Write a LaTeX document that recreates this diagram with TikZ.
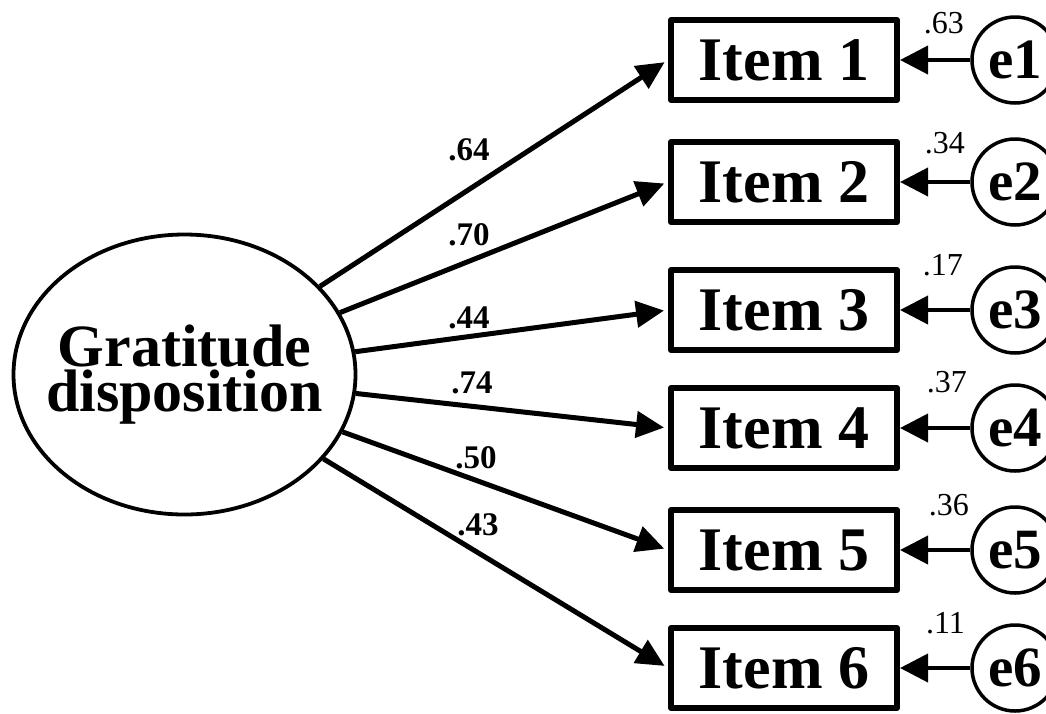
\documentclass[tikz,border=0pt]{standalone}
\usepackage{fontspec}
\setmainfont{Liberation Serif}
\usetikzlibrary{arrows.meta,shapes.geometric}
\begin{document}
\begin{tikzpicture}[x=1pt,y=-1pt,
  latent/.style={draw, ellipse, line width=3.8pt, minimum width=342pt,
    minimum height=280pt, inner sep=0pt},
  latentname/.style={align=center, inner sep=0pt,
    font=\fontsize{60}{45}\selectfont\bfseries},
  itembox/.style={draw, rectangle, line width=6pt, line join=round,
    minimum width=226pt, minimum height=80pt, inner sep=0pt,
    font=\fontsize{62}{62}\selectfont\bfseries},
  errnode/.style={draw, circle, line width=3.5pt, minimum size=86pt,
    inner sep=0pt, font=\fontsize{57}{57}\selectfont\bfseries},
  load/.style={line width=5pt, -{Triangle[length=28pt,width=26pt]},
    shorten >=4pt},
  errarrow/.style={line width=4pt, -{Triangle[length=28pt,width=28pt]}},
  loadlbl/.style={anchor=base, inner sep=0pt,
    font=\fontsize{33}{33}\selectfont\bfseries},
  errlbl/.style={anchor=base east, inner sep=0pt,
    font=\fontsize{32}{32}\selectfont}
]
\useasboundingbox (0,0) rectangle (1046,713);

% latent factor, its name set on top of the ellipse
\node[latent, label={[latentname]center:Gratitude\\disposition}] (lat)
  at (184.5,374.5) {};

% observed items and their error terms
\foreach \k/\y in {1/60, 2/182, 3/310, 4/428, 5/550, 6/668} {
  \node[itembox] (i\k) at (784,\y) {Item \k};
  \node[errnode] (e\k) at (1015,\y) {e\k};
  \draw[errarrow] (e\k) -- (i\k.east);
  \draw[load] (lat) -- (i\k.west);
}

% factor loadings
\node[loadlbl] (l1) at (469,160) {.64};
\node[loadlbl] (l2) at (469,245) {.70};
\node[loadlbl] (l3) at (469,328) {.44};
\node[loadlbl] (l4) at (472,393) {.74};
\node[loadlbl] (l5) at (476,468) {.50};
\node[loadlbl] (l6) at (478,535) {.43};

% squared multiple correlations
\node[errlbl] (r1) at (964,33) {.63};
\node[errlbl] (r2) at (965,153) {.34};
\node[errlbl] (r3) at (963,275) {.17};
\node[errlbl] (r4) at (967,392) {.37};
\node[errlbl] (r5) at (969,515) {.36};
\node[errlbl] (r6) at (965,633) {.11};
\end{tikzpicture}
\end{document}
